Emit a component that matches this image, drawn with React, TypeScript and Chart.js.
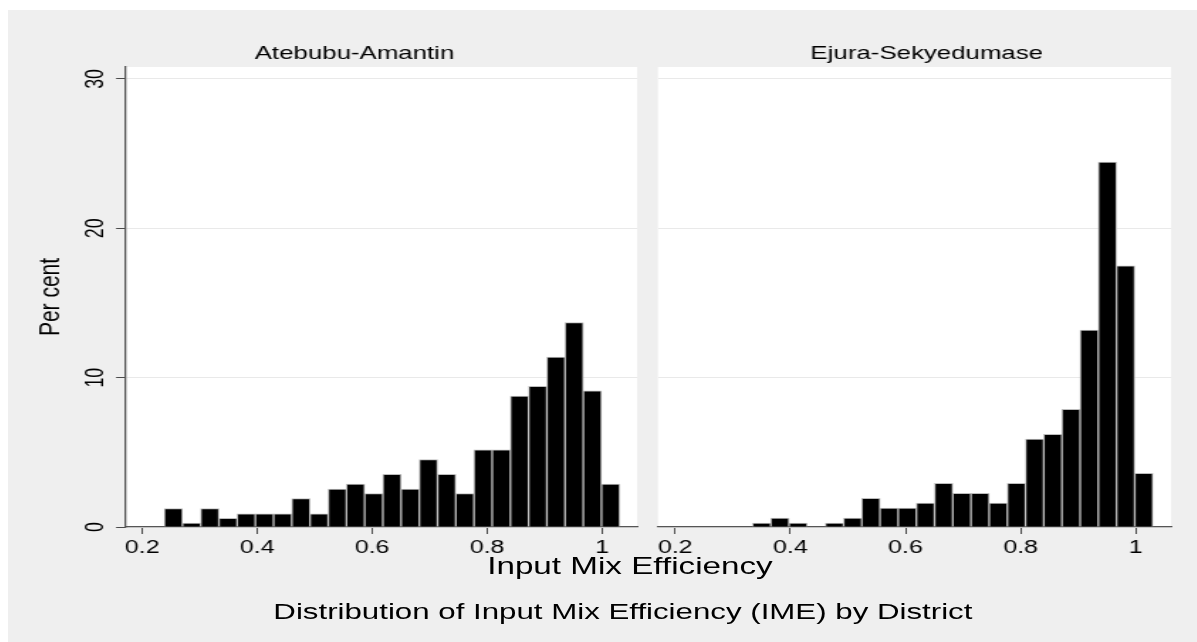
import React, { useEffect, useRef } from "react";
import { Chart, registerables } from "chart.js";

Chart.register(...registerables);

const FONT = "'Liberation Sans', Arial, Helvetica, sans-serif";
const STRETCH = 1.42;

// ---- data ----
const panelTitles = ["Atebubu-Amantin", "Ejura-Sekyedumase"];
const yAxisTitle = "Per cent";
const xAxisTitle = "Input Mix Efficiency";
const chartTitle = "Distribution of Input Mix Efficiency (IME) by District";

const xTicks = [0.2, 0.4, 0.6, 0.8, 1];
const yTicks = [0, 10, 20, 30];
const xMin = 0.17;
const xMax = 1.061;
const yMax = 30.8;

// Atebubu-Amantin histogram (percent per bin)
const atebubuBinStart = 0.2383;
const atebubuBinWidth = 0.0317;
const atebubuPercent = [
  1.23, 0.27, 1.23, 0.58, 0.89, 0.89, 0.89, 1.9, 0.89, 2.54, 2.88, 2.23, 3.53,
  2.54, 4.51, 3.53, 2.23, 5.16, 5.16, 8.77, 9.42, 11.38, 13.68, 9.11, 2.88,
];

// Ejura-Sekyedumase histogram (percent per bin)
const ejuraBinStart = 0.3344;
const ejuraBinWidth = 0.0316;
const ejuraPercent = [
  0.27, 0.6, 0.27, 0, 0.27, 0.6, 1.92, 1.27, 1.27, 1.6, 2.92, 2.25, 2.25, 1.6,
  2.92, 5.88, 6.21, 7.88, 13.18, 24.43, 17.48, 3.59,
];

const fmtX = (v: number) => String(Number(v.toFixed(1)));

const decorPlugin = {
  id: "panelDecor",
  beforeDraw(chart: any, _args: any, opts: any) {
    const { ctx, chartArea: a } = chart;
    ctx.save();
    ctx.fillStyle = "#ffffff";
    ctx.fillRect(a.left, a.top, a.right - a.left, a.bottom - a.top);
    ctx.restore();
  },
  afterDraw(chart: any, _args: any, opts: any) {
    const { ctx } = chart;
    ctx.save();
    ctx.fillStyle = "#000";
    ctx.font = `18.2px ${FONT}`;
    ctx.textAlign = "center";
    ctx.textBaseline = "middle";
    ctx.fillText(opts.title, opts.titleX, opts.titleY);
    if (opts.showYLabels) {
      const ys = chart.scales.y;
      ctx.font = `17.8px ${FONT}`;
      yTicks.forEach((v) => {
        const py = ys.getPixelForValue(v);
        ctx.save();
        ctx.translate(opts.yLabelX, py);
        ctx.rotate(-Math.PI / 2);
        ctx.fillText(String(v), 0, 0);
        ctx.restore();
      });
    }
    ctx.restore();
  },
};

type PanelProps = {
  title: string;
  values: number[];
  binStart: number;
  binWidth: number;
  left: number;
  width: number;
  yAxisWidth: number;
  showYAxis: boolean;
  titleX: number;
};

const CANVAS_H = 560;
const AREA_TOP = 57;
const AREA_BOTTOM = 517;
const PAD_RIGHT = 7;

function Panel(p: PanelProps) {
  const ref = useRef<HTMLCanvasElement>(null);
  useEffect(() => {
    if (!ref.current) return;
    const points = p.values.map((v, i) => ({
      x: p.binStart + p.binWidth * (i + 0.5),
      y: v,
    }));
    const chart = new Chart(ref.current, {
      type: "bar",
      data: {
        datasets: [
          {
            data: points as any,
            backgroundColor: "#000000",
            borderColor: "#bcbcbc",
            borderWidth: 1,
            barPercentage: 1,
            categoryPercentage: 1,
          },
        ],
      },
      options: {
        animation: false,
        responsive: true,
        maintainAspectRatio: false,
        events: [],
        layout: {
          padding: { left: 0, right: PAD_RIGHT, top: AREA_TOP, bottom: 0 },
        },
        plugins: {
          legend: { display: false },
          title: { display: false },
          tooltip: { enabled: false },
          panelDecor: {
            title: p.title,
            titleX: p.titleX,
            titleY: 43.5,
            showYLabels: p.showYAxis,
            yLabelX: 62,
          },
        } as any,
        scales: {
          x: {
            type: "linear",
            min: xMin,
            max: xMax,
            offset: false,
            afterBuildTicks: (s: any) => {
              s.ticks = xTicks.map((v) => ({ value: v }));
            },
            afterFit: (s: any) => {
              s.height = CANVAS_H - AREA_BOTTOM;
            },
            grid: {
              offset: false,
              drawOnChartArea: false,
              drawTicks: true,
              tickLength: 7,
              tickColor: "#4a4a4a",
              tickWidth: 1,
            },
            border: { display: true, color: "#555555", width: 1.3 },
            ticks: {
              autoSkip: false,
              maxRotation: 0,
              minRotation: 0,
              padding: 3.6,
              color: "#000",
              font: { family: FONT, size: 17.6 },
              callback: (v: any) => fmtX(Number(v)),
            },
          },
          y: {
            type: "linear",
            min: 0,
            max: yMax,
            afterBuildTicks: (s: any) => {
              s.ticks = yTicks.map((v) => ({ value: v }));
            },
            afterFit: (s: any) => {
              s.width = p.yAxisWidth;
            },
            grid: {
              color: "#e9e9e9",
              lineWidth: 1,
              drawTicks: p.showYAxis,
              tickLength: 6.3,
              tickColor: "#4a4a4a",
              tickWidth: 1,
            },
            border: { display: p.showYAxis, color: "#555555", width: 1.3 },
            ticks: { display: false },
            title: p.showYAxis
              ? {
                  display: true,
                  text: yAxisTitle,
                  color: "#000",
                  font: { family: FONT, size: 21 },
                  padding: { top: 18, bottom: 0 },
                }
              : { display: false },
          },
        },
      },
      plugins: [decorPlugin],
    });
    return () => chart.destroy();
  }, []);
  return (
    <div
      style={{
        position: "absolute",
        left: p.left,
        top: 0,
        width: p.width,
        height: CANVAS_H,
      }}
    >
      <canvas ref={ref} />
    </div>
  );
}

export default function App() {
  return (
    <div
      style={{
        position: "fixed",
        left: 8,
        top: 10,
        width: 1189,
        height: 632,
        background: "#efefef",
        overflow: "hidden",
      }}
    >
      <div
        style={{
          position: "absolute",
          left: 0,
          top: 0,
          width: 1189 / STRETCH,
          height: 632,
          transform: `scaleX(${STRETCH})`,
          transformOrigin: "0 0",
          fontFamily: FONT,
          color: "#000",
        }}
      >
        <Panel
          title={panelTitles[0]}
          values={atebubuPercent}
          binStart={atebubuBinStart}
          binWidth={atebubuBinWidth}
          left={0}
          width={450}
          yAxisWidth={82.4}
          showYAxis={true}
          titleX={244}
        />
        <Panel
          title={panelTitles[1]}
          values={ejuraPercent}
          binStart={ejuraBinStart}
          binWidth={ejuraBinWidth}
          left={450}
          width={376}
          yAxisWidth={7.7}
          showYAxis={false}
          titleX={197}
        />
        <div
          style={{
            position: "absolute",
            left: 438,
            top: 557,
            transform: "translate(-50%, -50%)",
            whiteSpace: "nowrap",
            fontSize: 23.4,
            lineHeight: 1,
          }}
        >
          {xAxisTitle}
        </div>
        <div
          style={{
            position: "absolute",
            left: 433,
            top: 602,
            transform: "translate(-50%, -50%)",
            whiteSpace: "nowrap",
            fontSize: 22,
            lineHeight: 1,
          }}
        >
          {chartTitle}
        </div>
      </div>
    </div>
  );
}
